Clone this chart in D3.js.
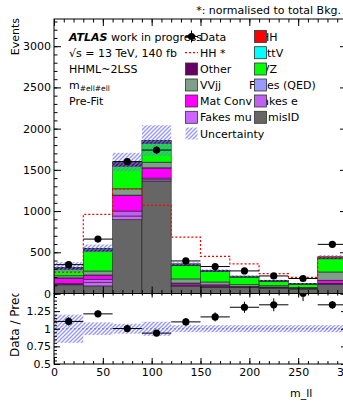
<!DOCTYPE html>
<html><head><meta charset="utf-8">
<script src="https://cdn.jsdelivr.net/npm/d3@7"></script>
<style>body{margin:0;background:#fff;} svg{display:block;font-family:"DejaVu Sans",sans-serif;}</style>
</head><body><svg id="c" width="343" height="403"></svg>
<script>
// ---------- data ----------
const binEdges = [0,30,60,90,120,150,180,210,240,270,300];
const dataEvents = [350, 660, 1600, 1740, 395, 327, 274, 213, 182, 596];
const hhStar   = [260, 960, 1265, 1070, 685, 450, 360, 240, 195, 445];
// stack components, bottom -> top
const misID    = [105, 92, 895, 1365, 90, 75, 70, 65, 55, 110];
const fakesMu  = [5, 40, 45, 15, 5, 3, 3, 2, 2, 5];
const fakesE   = [10, 41, 60, 20, 8, 5, 4, 3, 2, 8];
const matConv  = [65, 49, 189, 122, 22, 20, 10, 8, 5, 35];
const fakesQED = [5, 3, 5, 3, 2, 2, 1, 1, 1, 3];
const vvjj     = [25, 48, 76, 68, 50, 35, 20, 15, 8, 100];
const vz       = [80, 242, 275, 230, 160, 125, 90, 55, 40, 160];
const other    = [15, 20, 35, 20, 15, 10, 8, 6, 5, 15];
const ttV      = [5, 8, 10, 8, 5, 4, 3, 3, 2, 6];
const hh       = [2, 2, 5, 4, 3, 1, 1, 1, 1, 3];
const relUnc   = [0.20, 0.09, 0.07, 0.10, 0.05, 0.05, 0.05, 0.05, 0.05, 0.05];

const sampleKeys   = ["misID","fakesMu","fakesE","matConv","fakesQED","vvjj","vz","other","ttV","hh"];
const sampleValues = [misID, fakesMu, fakesE, matConv, fakesQED, vvjj, vz, other, ttV, hh];
const sampleColors = ["#666666","#cc66ff","#c060f0","#ff00ff","#9999ff","#7f9f8a","#00ff00","#660066","#00ffff","#ff0000"];

const mainYTicks  = [0,500,1000,1500,2000,2500,3000];
const ratioYTicks = [0.5,0.75,1,1.25,1.5];
const xTicks      = [0,50,100,150,200,250,300];

// ---------- setup ----------
const svg = d3.select("#c");
const x  = d3.scaleLinear().domain([0,300]).range([54,347]);
const y  = d3.scaleLinear().domain([0,3330]).range([293.5,19]);
const yr = d3.scaleLinear().domain([0.5,1.5]).range([364,293.5]);

const defs = svg.append("defs");
const pat = defs.append("pattern").attr("id","hatch").attr("patternUnits","userSpaceOnUse")
  .attr("width",4).attr("height",4);
pat.append("path").attr("d","M-1,1 L1,-1 M0,4 L4,0 M3,5 L5,3")
  .attr("stroke","#7070ff").attr("stroke-width",1.3);
defs.append("clipPath").attr("id","clipMain").append("rect")
  .attr("x",54).attr("y",19).attr("width",293).attr("height",274.5);
defs.append("clipPath").attr("id","clipRatio").append("rect")
  .attr("x",54).attr("y",293.5).attr("width",293).attr("height",70.5);
defs.append("clipPath").attr("id","clipRLabel").append("rect")
  .attr("x",0).attr("y",293.5).attr("width",54).attr("height",110);

const rows = dataEvents.map((d,i)=>{
  const r = {lo: binEdges[i], hi: binEdges[i+1], data: d};
  sampleKeys.forEach((k,j)=> r[k] = sampleValues[j][i]);
  r.total = d3.sum(sampleValues, v=>v[i]);
  r.unc = relUnc[i]; r.hhs = hhStar[i];
  return r;
});
const stacked = d3.stack().keys(sampleKeys)(rows);

// ---------- main panel ----------
const gm = svg.append("g").attr("clip-path","url(#clipMain)");
stacked.forEach((layer,j)=>{
  gm.append("g").selectAll("rect").data(layer).join("rect")
    .attr("x", d=>x(d.data.lo)).attr("width", d=>x(d.data.hi)-x(d.data.lo))
    .attr("y", d=>y(d[1])).attr("height", d=>Math.max(0,y(d[0])-y(d[1])))
    .attr("fill", sampleColors[j]).attr("stroke","#222").attr("stroke-width",0.6);
});
gm.append("g").selectAll("rect").data(rows).join("rect")
  .attr("x", d=>x(d.lo)).attr("width", d=>x(d.hi)-x(d.lo))
  .attr("y", d=>y(d.total*(1+d.unc))).attr("height", d=>y(d.total*(1-d.unc))-y(d.total*(1+d.unc)))
  .attr("fill","url(#hatch)").attr("opacity",0.75);
const stepPts = rows.map(d=>[d.lo,d.hhs]).concat([[300, hhStar[hhStar.length-1]]]);
gm.append("path").attr("d", d3.line().x(d=>x(d[0])).y(d=>y(d[1])).curve(d3.curveStepAfter)(stepPts))
  .attr("fill","none").attr("stroke","#ff0000").attr("stroke-width",1.2).attr("stroke-dasharray","2,2");
const gd = gm.append("g");
rows.forEach(d=>{
  const cx = x((d.lo+d.hi)/2), e = Math.sqrt(d.data);
  gd.append("line").attr("x1",x(d.lo)).attr("x2",x(d.hi)).attr("y1",y(d.data)).attr("y2",y(d.data)).attr("stroke","#000");
  gd.append("line").attr("x1",cx).attr("x2",cx).attr("y1",y(d.data-e)).attr("y2",y(d.data+e)).attr("stroke","#000");
  gd.append("circle").attr("cx",cx).attr("cy",y(d.data)).attr("r",3.6).attr("fill","#000");
});

// ---------- ratio panel ----------
const gr = svg.append("g").attr("clip-path","url(#clipRatio)");
gr.append("g").selectAll("rect").data(rows).join("rect")
  .attr("x", d=>x(d.lo)).attr("width", d=>x(d.hi)-x(d.lo))
  .attr("y", d=>yr(1+d.unc)).attr("height", d=>yr(1-d.unc)-yr(1+d.unc))
  .attr("fill","url(#hatch)").attr("opacity",0.75);
gr.append("line").attr("x1",x(0)).attr("x2",x(300)).attr("y1",yr(1)).attr("y2",yr(1))
  .attr("stroke","#7777bb").attr("stroke-width",1).attr("stroke-dasharray","2,2");
rows.forEach(d=>{
  const cx = x((d.lo+d.hi)/2), r = d.data/d.total, e = Math.sqrt(d.data)/d.total;
  gr.append("line").attr("x1",x(d.lo)).attr("x2",x(d.hi)).attr("y1",yr(r)).attr("y2",yr(r)).attr("stroke","#000");
  gr.append("line").attr("x1",cx).attr("x2",cx).attr("y1",yr(r-e)).attr("y2",yr(r+e)).attr("stroke","#000");
  gr.append("circle").attr("cx",cx).attr("cy",yr(r)).attr("r",3.6).attr("fill","#000");
});

// ---------- axes ----------
function minorVals(lo,hi,step){ const v=[]; for(let t=lo;t<=hi+1e-9;t+=step) v.push(+t.toFixed(4)); return v; }
function axis(make, tr, major, minor, len, fmt){
  const g = svg.append("g").attr("transform",tr);
  g.call(make().tickValues(minor).tickSize(-len/2).tickFormat(""));
  const gM = svg.append("g").attr("transform",tr);
  gM.call(make().tickValues(major).tickSize(-len).tickPadding(fmt?3:0).tickFormat(fmt||""));
  [g,gM].forEach(a=>{ a.select(".domain").remove(); a.selectAll("text").attr("font-size",11).attr("fill","#000").style("font-family","DejaVu Sans"); });
  return gM;
}
const xMinor = minorVals(0,300,10);
axis(()=>d3.axisBottom(x), "translate(0,293.5)", xTicks, xMinor, 7, null);
axis(()=>d3.axisTop(x), "translate(0,19)", xTicks, xMinor, 7, null);
axis(()=>d3.axisLeft(y), "translate(54,0)", mainYTicks, minorVals(0,3300,100), 7, d=>String(d));
axis(()=>d3.axisRight(y), "translate(347,0)", mainYTicks, minorVals(0,3300,100), 7, null);
const xb = axis(()=>d3.axisBottom(x), "translate(0,364)", xTicks, xMinor, 6, d=>String(d));
xb.selectAll("text").attr("y",4);
axis(()=>d3.axisTop(x), "translate(0,293.5)", xTicks, xMinor, 4, null);
axis(()=>d3.axisLeft(yr), "translate(54,0)", ratioYTicks, minorVals(0.5,1.5,0.05), 6, d=> d===1.5 ? "" : String(d));
axis(()=>d3.axisRight(yr), "translate(347,0)", ratioYTicks, minorVals(0.5,1.5,0.05), 6, null);

svg.append("rect").attr("x",54).attr("y",19).attr("width",293).attr("height",274.5)
  .attr("fill","none").attr("stroke","#000").attr("stroke-width",1);
svg.append("rect").attr("x",54).attr("y",293.5).attr("width",293).attr("height",70.5)
  .attr("fill","none").attr("stroke","#000").attr("stroke-width",1);

// axis titles
svg.append("text").attr("transform","translate(19,18) rotate(-90)").attr("text-anchor","end")
  .attr("font-size",11).text("Events");
svg.append("g").attr("clip-path","url(#clipRLabel)").append("text")
  .attr("transform","translate(19,357) rotate(-90)").attr("text-anchor","start")
  .attr("font-size",12).text("Data / Pred.");
svg.append("text").attr("x",290).attr("y",397).attr("font-size",11).text("m_ll");

// ---------- texts ----------
svg.append("text").attr("x",341).attr("y",14).attr("text-anchor","end").attr("font-size",11)
  .text("*: normalised to total Bkg.");
const info = svg.append("g").attr("font-size",11);
const t1 = info.append("text").attr("x",69).attr("y",40.5);
t1.append("tspan").attr("font-weight","bold").attr("font-style","italic").text("ATLAS");
t1.append("tspan").text(" work in progress");
info.append("text").attr("x",69).attr("y",56.7).text("√s = 13 TeV, 140 fb");
info.append("text").attr("x",69).attr("y",73).text("HHML~2LSS");
const tm = info.append("text").attr("x",69).attr("y",89);
tm.append("tspan").text("m");
tm.append("tspan").attr("font-size",7.5).attr("dy",2).text("#ell#ell");
info.append("text").attr("x",69).attr("y",105).text("Pre-Fit");

// ---------- legend ----------
const legRowY = [36.5, 52.7, 69, 85, 101, 117.3, 133.5];
const col1 = [
  {type:"data", label:"Data"},
  {type:"line", label:"HH *"},
  {type:"box", label:"Other", color:sampleColors[7]},
  {type:"box", label:"VVjj", color:sampleColors[5]},
  {type:"box", label:"Mat Conv", color:sampleColors[3]},
  {type:"box", label:"Fakes mu", color:sampleColors[1]},
  {type:"hatch", label:"Uncertainty"}
];
const col2 = [
  {label:"HH", color:sampleColors[9], tx:261},
  {label:"ttV", color:sampleColors[8], tx:267},
  {label:"VZ", color:sampleColors[6], tx:262},
  {label:"Fakes (QED)", color:sampleColors[4], tx:249},
  {label:"Fakes e", color:sampleColors[2], tx:257},
  {label:"misID", color:sampleColors[0], tx:268}
];
const lg = svg.append("g").attr("font-size",11);
col1.forEach((e,i)=> lg.append("text").attr("x",200).attr("y",legRowY[i]+4).text(e.label));
col2.forEach((e,i)=> lg.append("text").attr("x",e.tx).attr("y",legRowY[i]+4).text(e.label));
col1.forEach((e,i)=>{
  const cy = legRowY[i];
  if(e.type==="data"){
    lg.append("line").attr("x1",185).attr("x2",198).attr("y1",cy).attr("y2",cy).attr("stroke","#000");
    lg.append("line").attr("x1",191.5).attr("x2",191.5).attr("y1",cy-6).attr("y2",cy+6).attr("stroke","#000");
    lg.append("circle").attr("cx",191.5).attr("cy",cy).attr("r",3.6).attr("fill","#000");
  } else if(e.type==="line"){
    lg.append("line").attr("x1",185).attr("x2",198).attr("y1",cy).attr("y2",cy)
      .attr("stroke","#ff0000").attr("stroke-width",1.2).attr("stroke-dasharray","2,2");
  } else if(e.type==="box"){
    lg.append("rect").attr("x",185.5).attr("y",cy-6).attr("width",12).attr("height",12)
      .attr("fill",e.color).attr("stroke","#333").attr("stroke-width",0.8);
  } else {
    lg.append("rect").attr("x",185.5).attr("y",cy-6).attr("width",12).attr("height",12)
      .attr("fill","url(#hatch)").attr("opacity",0.75);
  }
});
col2.forEach((e,i)=>{
  const cy = legRowY[i];
  lg.append("rect").attr("x",254.5).attr("y",cy-6).attr("width",12).attr("height",12)
    .attr("fill",e.color).attr("stroke","#333").attr("stroke-width",0.8);
});
</script></body></html>
